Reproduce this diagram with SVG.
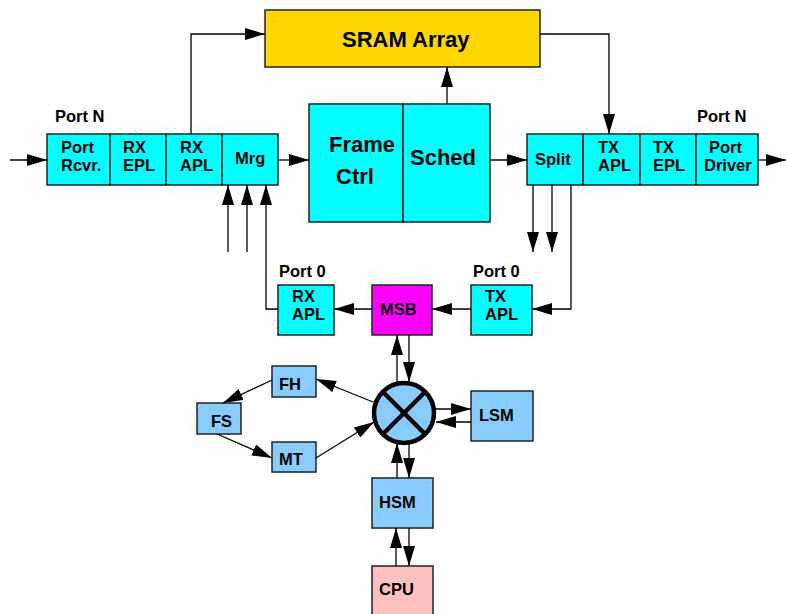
<svg xmlns="http://www.w3.org/2000/svg" width="786" height="614" viewBox="0 0 786 614">
<defs>
<marker id="ah" markerUnits="userSpaceOnUse" markerWidth="20" markerHeight="12" refX="20" refY="6" orient="auto">
<path d="M0,0 L20,6 L0,12 z" fill="#000"/>
</marker>
<style>
.b{stroke:#222;stroke-width:1.5}
.cy{fill:#00FFFF}
.lb{fill:#88CCFF}
.t{font-family:"Liberation Sans",Arial,sans-serif;font-weight:bold;font-size:16.5px;fill:#000}
.big{font-size:22px}
.c line,.c polyline{stroke:#000;stroke-width:1.3;fill:none;marker-end:url(#ah)}
</style>
</defs>
<rect width="786" height="614" fill="#fff"/>

<g id="sram">
<rect class="b" x="265" y="10" width="275" height="57" fill="#FFD700"/>
<text class="t big" x="342" y="47">SRAM Array</text>
</g>

<g id="framectrl">
<rect class="b cy" x="309" y="104" width="94" height="118"/>
<text class="t big" x="329" y="152">Frame</text>
<text class="t big" x="336" y="184">Ctrl</text>
</g>
<g id="sched">
<rect class="b cy" x="403" y="104" width="87" height="118"/>
<text class="t big" x="410" y="165">Sched</text>
</g>

<g id="portN-rx-label"><text class="t" x="55" y="122">Port N</text></g>
<g id="portrcvr">
<rect class="b cy" x="47" y="134" width="63" height="51"/>
<text class="t" x="61" y="153">Port</text>
<text class="t" x="61" y="171">Rcvr.</text>
</g>
<g id="rxepl">
<rect class="b cy" x="110" y="134" width="56" height="51"/>
<text class="t" x="123" y="153">RX</text>
<text class="t" x="123" y="171">EPL</text>
</g>
<g id="rxapl">
<rect class="b cy" x="166" y="134" width="56" height="51"/>
<text class="t" x="180" y="153">RX</text>
<text class="t" x="180" y="171">APL</text>
</g>
<g id="mrg">
<rect class="b cy" x="222" y="134" width="56" height="51"/>
<text class="t" x="235" y="164">Mrg</text>
</g>

<g id="portN-tx-label"><text class="t" x="697" y="122">Port N</text></g>
<g id="split">
<rect class="b cy" x="527" y="134" width="56" height="51"/>
<text class="t" x="535" y="165">Split</text>
</g>
<g id="txapl">
<rect class="b cy" x="583" y="134" width="57" height="51"/>
<text class="t" x="598" y="153">TX</text>
<text class="t" x="598" y="171">APL</text>
</g>
<g id="txepl">
<rect class="b cy" x="640" y="134" width="56" height="51"/>
<text class="t" x="653" y="153">TX</text>
<text class="t" x="653" y="171">EPL</text>
</g>
<g id="portdriver">
<rect class="b cy" x="696" y="134" width="62" height="51"/>
<text class="t" x="709" y="153">Port</text>
<text class="t" x="704" y="171">Driver</text>
</g>

<g id="rxapl0">
<text class="t" x="279" y="277">Port 0</text>
<rect class="b cy" x="278" y="285" width="56" height="50"/>
<text class="t" x="292" y="302">RX</text>
<text class="t" x="292" y="320">APL</text>
</g>
<g id="msb">
<rect class="b" x="372" y="285" width="60" height="50" fill="#FF00FF"/>
<text class="t" x="380" y="315">MSB</text>
</g>
<g id="txapl0">
<text class="t" x="473" y="277">Port 0</text>
<rect class="b cy" x="471" y="285" width="61" height="50"/>
<text class="t" x="485" y="302">TX</text>
<text class="t" x="485" y="320">APL</text>
</g>

<g id="switch">
<circle cx="404" cy="413" r="30" fill="#88CCFF" stroke="#000" stroke-width="4.5"/>
<line x1="383" y1="392" x2="425" y2="434" stroke="#000" stroke-width="4.5"/>
<line x1="425" y1="392" x2="383" y2="434" stroke="#000" stroke-width="4.5"/>
</g>
<g id="fh">
<rect class="b lb" x="272" y="366" width="44" height="31"/>
<text class="t" x="279" y="390">FH</text>
</g>
<g id="fs">
<rect class="b lb" x="197" y="403" width="44" height="31"/>
<text class="t" x="211" y="427">FS</text>
</g>
<g id="mt">
<rect class="b lb" x="272" y="442" width="44" height="30"/>
<text class="t" x="279" y="465">MT</text>
</g>
<g id="lsm">
<rect class="b lb" x="471" y="391" width="62" height="50"/>
<text class="t" x="479" y="421">LSM</text>
</g>
<g id="hsm">
<rect class="b lb" x="372" y="478" width="61" height="50"/>
<text class="t" x="379" y="508">HSM</text>
</g>
<g id="cpu">
<rect class="b" x="372" y="566" width="61" height="60" fill="#FFC0C0"/>
<text class="t" x="379" y="595">CPU</text>
</g>

<g id="connectors" class="c">
<line x1="10" y1="160" x2="47" y2="160"/>
<line x1="278" y1="160" x2="309" y2="160"/>
<line x1="490" y1="160" x2="527" y2="160"/>
<line x1="758" y1="160" x2="786" y2="160"/>
<polyline points="191,134 191,34 265,34"/>
<polyline points="540,34 609,34 609,134"/>
<line x1="447" y1="104" x2="447" y2="67"/>
<line x1="228" y1="252" x2="228" y2="185"/>
<line x1="247" y1="252" x2="247" y2="185"/>
<polyline points="278,309 266,309 266,185"/>
<line x1="533" y1="185" x2="533" y2="252"/>
<line x1="552" y1="185" x2="552" y2="252"/>
<polyline points="571,185 571,309 532,309"/>
<line x1="471" y1="309" x2="432" y2="309"/>
<line x1="372" y1="309" x2="334" y2="309"/>
<line x1="397" y1="384" x2="397" y2="335"/>
<line x1="409" y1="335" x2="409" y2="382"/>
<line x1="409" y1="444" x2="409" y2="478"/>
<line x1="397" y1="478" x2="397" y2="443"/>
<line x1="396" y1="566" x2="396" y2="528"/>
<line x1="409" y1="528" x2="409" y2="566"/>
<line x1="435" y1="409" x2="471" y2="409"/>
<line x1="471" y1="422" x2="436" y2="422"/>
<line x1="373" y1="402" x2="316" y2="379"/>
<line x1="272" y1="380" x2="223" y2="403"/>
<line x1="217" y1="434" x2="272" y2="458"/>
<line x1="316" y1="458" x2="374" y2="422"/>
</g>
</svg>
